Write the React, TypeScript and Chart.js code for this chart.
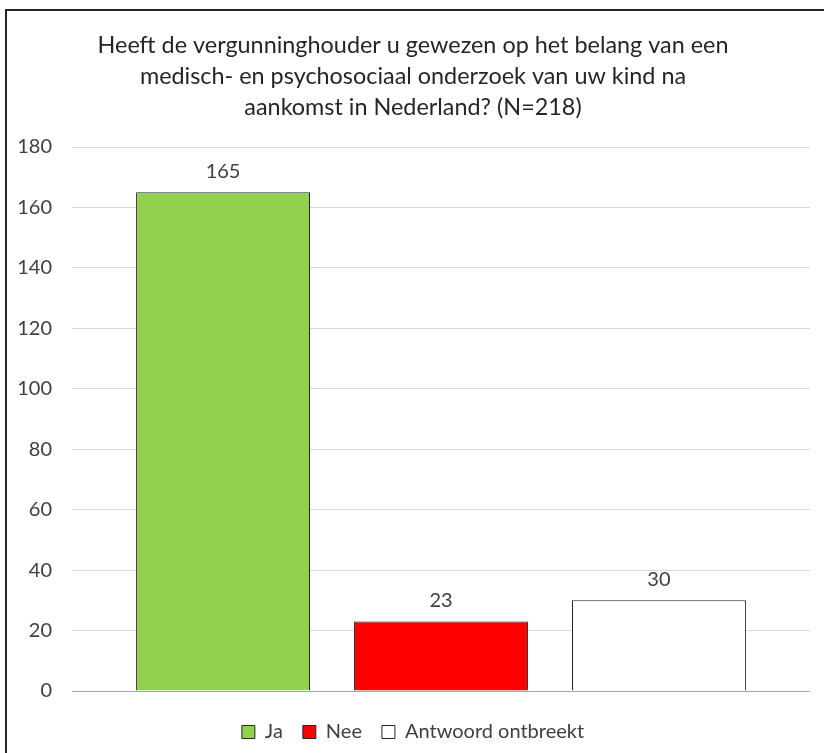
import { useEffect, useRef } from "react";
import { Chart, registerables } from "chart.js";

Chart.register(...registerables);

const titleLines = [
  "Heeft de vergunninghouder u gewezen op het belang van een",
  "medisch- en psychosociaal onderzoek van uw kind na",
  "aankomst in Nederland? (N=218)",
];
const categories = [""];
const seriesLabels = ["Ja", "Nee", "Antwoord ontbreekt"];
const seriesValues = [165, 23, 30];
const seriesColors = ["#92D050", "#FF0000", "#FFFFFF"];
const yMin = 0;
const yMax = 180;
const yStep = 20;

const FONT = "Lato, 'Open Sans', sans-serif";
const TEXT = "#404040";

const valueLabelPlugin = {
  id: "valueLabels",
  afterDatasetsDraw(chart: any) {
    const ctx = chart.ctx;
    chart.data.datasets.forEach((ds: any, i: number) => {
      const meta = chart.getDatasetMeta(i);
      meta.data.forEach((bar: any, j: number) => {
        ctx.save();
        ctx.font = `20px ${FONT}`;
        ctx.fillStyle = TEXT;
        ctx.textAlign = "center";
        ctx.textBaseline = "alphabetic";
        ctx.fillText(String(ds.data[j]), bar.x, bar.y - 14);
        ctx.restore();
      });
    });
  },
};

export default function App() {
  const ref = useRef<HTMLCanvasElement | null>(null);
  useEffect(() => {
    if (!ref.current) return;
    const chart = new Chart(ref.current, {
      type: "bar",
      data: {
        labels: categories,
        datasets: seriesLabels.map((label, i) => ({
          label,
          data: [seriesValues[i]],
          backgroundColor: seriesColors[i],
          borderColor: "#262626",
          borderWidth: 1,
          categoryPercentage: 0.886,
          barPercentage: 0.798,
        })),
      },
      options: {
        responsive: false,
        animation: false,
        layout: { padding: { left: 16, right: 14, top: 0, bottom: 1 } },
        plugins: {
          title: {
            display: true,
            text: titleLines,
            color: "#262626",
            font: { family: FONT, size: 23.4, weight: "normal", lineHeight: 31 / 23.4 },
            padding: { top: 29.5, bottom: 24.5 },
          },
          legend: {
            display: true,
            position: "bottom",
            labels: {
              boxWidth: 13,
              boxHeight: 13,
              padding: 20,
              color: TEXT,
              font: { family: FONT, size: 20 },
            },
          },
          tooltip: { enabled: false },
        },
        scales: {
          x: {
            display: true,
            grid: { display: false, drawTicks: false },
            border: { display: false },
            ticks: { display: false },
            afterFit: (scale: any) => {
              scale.height = 11;
            },
          },
          y: {
            min: yMin,
            max: yMax,
            ticks: {
              stepSize: yStep,
              padding: 20,
              color: TEXT,
              font: { family: FONT, size: 20 },
            },
            grid: {
              drawTicks: false,
              color: (c: any) => (c.tick && c.tick.value === 0 ? "#a6a6a6" : "#d9d9d9"),
              lineWidth: 1,
            },
            border: { display: false },
            afterFit: (scale: any) => {
              scale.width = 56;
            },
          },
        },
      },
      plugins: [valueLabelPlugin],
    });
    return () => chart.destroy();
  }, []);

  return (
    <div style={{ position: "fixed", left: 0, top: 0, width: 824, height: 753, background: "#fff" }}>
      <canvas ref={ref} width={824} height={753} style={{ display: "block" }} />
      <div
        style={{
          position: "absolute",
          left: 5,
          top: 9,
          width: 900,
          height: 900,
          border: "2px solid #262626",
          boxSizing: "border-box",
          pointerEvents: "none",
        }}
      />
    </div>
  );
}
